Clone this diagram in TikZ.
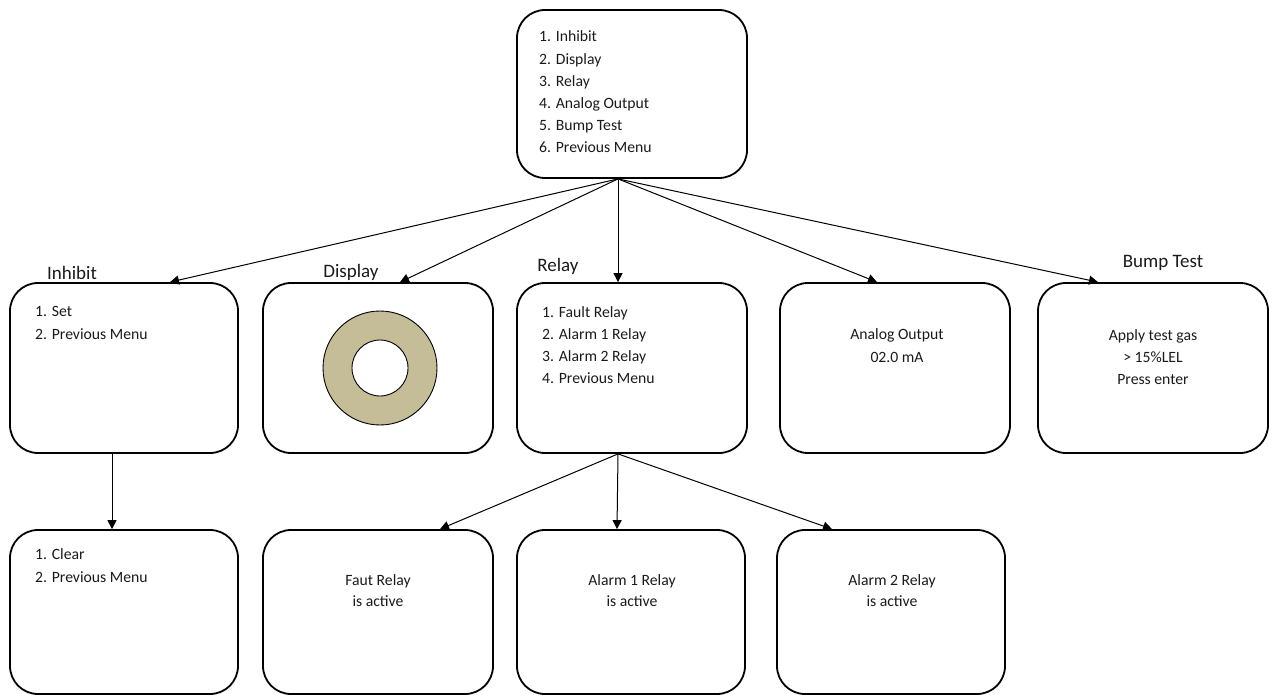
\documentclass[tikz,border=0pt]{standalone}
\usepackage{fontspec}
\setmainfont{Carlito}
\usetikzlibrary{arrows.meta,calc}
\definecolor{donut}{HTML}{C4BD97}
\definecolor{ink}{HTML}{1A1A1A}
\begin{document}
\begin{tikzpicture}[x=1pt,y=-1pt,
  box/.style={draw=black, line width=1.8pt, rounded corners=28pt, inner sep=0pt, minimum width=230pt, minimum height=170pt},
  lowbox/.style={box, minimum height=164pt},
  txt/.style={inner sep=0pt, text=ink, font=\fontsize{15.7}{22.2}\selectfont},
  lbl/.style={inner sep=0pt, text=ink, font=\fontsize{19}{23}\selectfont},
  arr/.style={draw=black, line width=1pt, -{Triangle[length=9pt,width=9pt]}},
  ring/.style={circle, draw=black, line width=0.9pt, inner sep=0pt}]
\useasboundingbox (0,0) rectangle (1273,695);

% top menu (base anchor = baseline of last line)
\node[box, minimum height=168pt] (top) at (632,94) {};
\node[txt, anchor=base west, align=left] (toptxt) at (539,153)
  {1. Inhibit\\2. Display\\3. Relay\\4. Analog Output\\5. Bump Test\\6. Previous Menu};

% second row
\node[box, minimum width=228pt] (inh) at (124,368) {};
\node[box] (disp) at (378,368) {};
\node[box] (relay) at (632,368) {};
\node[box] (analog) at (895,368) {};
\node[box] (bump) at (1153,368) {};

\node[lbl, anchor=base] (inhl) at (72,279) {Inhibit};
\node[lbl, anchor=base] (displ) at (351,277) {Display};
\node[lbl, anchor=base] (relayl) at (558,271) {Relay};
\node[lbl, anchor=base] (bumpl) at (1163,267) {Bump Test};

\node[txt, anchor=base west, align=left] (inhtxt) at (35,339) {1. Set\\2. Previous Menu};
\node[ring, fill=donut, minimum size=114pt] (outer) at (380,368) {};
\node[ring, fill=white, minimum size=56pt] (inner) at (outer.center) {};
\node[txt, anchor=base west, align=left] (relaytxt) at (542,383.6)
  {1. Fault Relay\\2. Alarm 1 Relay\\3. Alarm 2 Relay\\4. Previous Menu};
\node[txt, anchor=base, align=center] (antxt) at (897,362) {Analog Output\\02.0 mA};
\node[txt, anchor=base, align=center] (bumptxt) at (1153,384.4) {Apply test gas\\> 15\%LEL\\Press enter};

% third row
\node[lowbox, minimum width=228pt] (clear) at (124,612) {};
\node[lowbox] (faut) at (378,612) {};
\node[lowbox, minimum width=228pt] (al1) at (631,612) {};
\node[lowbox, minimum width=228pt] (al2) at (891,612) {};

\node[txt, anchor=base west, align=left] (cleartxt) at (35,582) {1. Clear\\2. Previous Menu};
\node[txt, anchor=base, align=center, font=\fontsize{15.7}{21}\selectfont] (fauttxt) at (378,606) {Faut Relay\\is active};
\node[txt, anchor=base, align=center, font=\fontsize{15.7}{21}\selectfont] (al1txt) at (632,606) {Alarm 1 Relay\\is active};
\node[txt, anchor=base, align=center, font=\fontsize{15.7}{21}\selectfont] (al2txt) at (892,606) {Alarm 2 Relay\\is active};

% connectors
\draw[arr] ([xshift=-14pt]top.south) -- ([xshift=46pt]inh.north);
\draw[arr] ([xshift=-14pt]top.south) -- ([xshift=22pt]disp.north);
\draw[arr] ([xshift=-14pt]top.south) -- ([xshift=-14pt]relay.north);
\draw[arr] ([xshift=-14pt]top.south) -- ([xshift=-18pt]analog.north);
\draw[arr] ([xshift=-14pt]top.south) -- ([xshift=-55pt]bump.north);

\draw[arr] ([xshift=-12pt]inh.south) -- ([xshift=-12pt]clear.north);

\draw[arr] ([xshift=-14pt]relay.south) -- ([xshift=62pt]faut.north);
\draw[arr] ([xshift=-14pt]relay.south) -- ([xshift=-14pt]al1.north);
\draw[arr] ([xshift=-14pt]relay.south) -- ([xshift=-59pt]al2.north);
\end{tikzpicture}
\end{document}
